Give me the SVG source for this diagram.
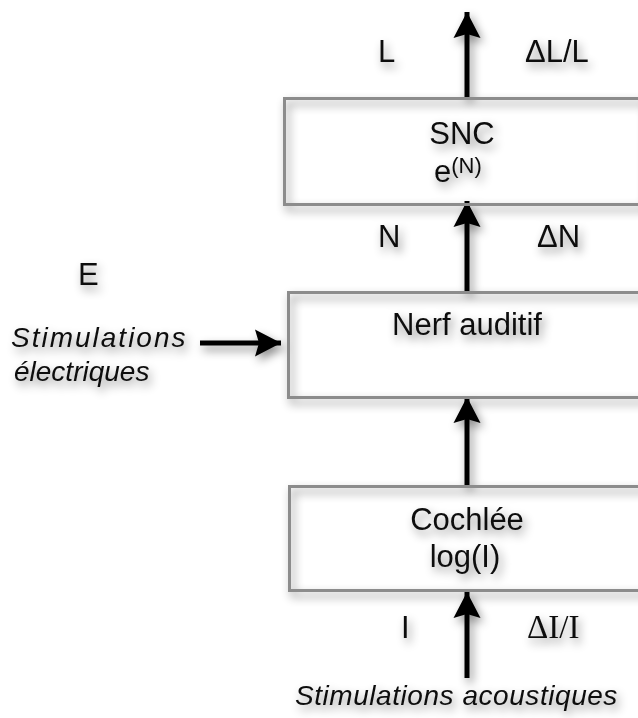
<svg xmlns="http://www.w3.org/2000/svg" width="638" height="718" viewBox="0 0 638 718">
  <style>
    .box { fill: none; stroke: #8c8c8c; stroke-width: 3; }
    .t { font-family: "Liberation Sans", Arial, sans-serif; font-size: 31px; fill: #111; }
    .it { font-family: "Liberation Sans", Arial, sans-serif; font-size: 28px; font-style: italic; fill: #111; }
    .serif { font-family: "Liberation Serif", "Times New Roman", serif; font-size: 33px; fill: #111; }
    .arr { stroke: #000; stroke-width: 5; fill: none; marker-end: url(#head); }
  </style>
  <defs>
    <filter id="sh" x="-20%" y="-20%" width="140%" height="160%">
      <feDropShadow dx="3" dy="5" stdDeviation="5" flood-color="#000" flood-opacity="0.45"/>
    </filter>
    <marker id="head" markerUnits="userSpaceOnUse" markerWidth="30" markerHeight="30" viewBox="-27 -15 30 30" refX="0" refY="0" orient="auto">
      <path d="M0,0 L-26,-13.5 L-22,0 L-26,13.5 Z" fill="#000"/>
    </marker>
  </defs>
  <rect width="638" height="718" fill="#fff"/>
  <g filter="url(#sh)">
    <g id="connectors">
      <path class="arr" d="M467,98 V12"/>
      <path class="arr" d="M467,291 V201"/>
      <path class="arr" d="M467,485 V397"/>
      <path class="arr" d="M467,678 V592"/>
      <path class="arr" d="M200,343 H281"/>
    </g>
    <g id="snc">
      <rect class="box" x="284.5" y="98.5" width="360" height="106"/>
      <text class="t" x="462" y="144" text-anchor="middle">SNC</text>
      <text class="t" x="434" y="182">e<tspan font-size="22" dy="-9">(N)</tspan></text>
    </g>
    <g id="nerf">
      <rect class="box" x="288.5" y="292.5" width="360" height="105"/>
      <text class="t" x="467" y="335" text-anchor="middle">Nerf auditif</text>
    </g>
    <g id="cochlee">
      <rect class="box" x="289.5" y="486.5" width="360" height="104"/>
      <text class="t" x="467" y="530" text-anchor="middle">Cochlée</text>
      <text class="t" x="465" y="567" text-anchor="middle">log(I)</text>
    </g>
    <g id="labels">
      <text class="t" x="378" y="62">L</text>
      <text class="t" x="525" y="62">ΔL/L</text>
      <text class="t" x="378" y="247">N</text>
      <text class="t" x="537" y="247">ΔN</text>
      <text class="t" x="78" y="285">E</text>
      <text class="it" x="11" y="347" font-size="31" letter-spacing="2">Stimulations</text>
      <text class="it" x="14" y="381">électriques</text>
      <text class="t" x="401" y="638">I</text>
      <text class="serif" x="527" y="638">ΔI/I</text>
      <text class="it" x="295" y="705" font-size="29" letter-spacing="0.55">Stimulations acoustiques</text>
    </g>
  </g>
</svg>
